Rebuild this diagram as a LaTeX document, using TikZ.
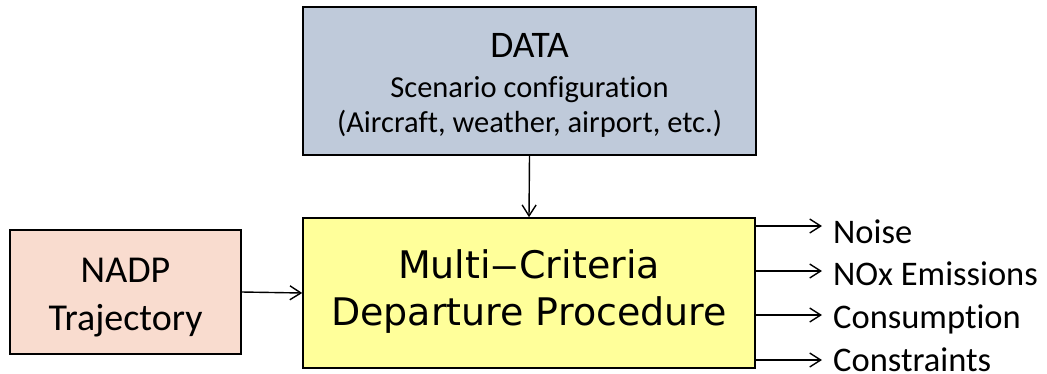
\documentclass[tikz,border=0pt]{standalone}
\usepackage{fontspec}
\usepackage{graphicx}
\setmainfont{Carlito}[Ligatures={NoCommon}]
\newfontfamily\procfont{DejaVu Sans}
\usetikzlibrary{arrows.meta}
\definecolor{databg}{HTML}{BFCADA}
\definecolor{mainbg}{HTML}{FFFF9A}
\definecolor{nadpbg}{HTML}{F9DCCF}
\tikzset{
  box/.style={draw=black, line width=1.6pt, inner sep=0pt},
  txt/.style={anchor=base, inner sep=0pt},
  link/.style={line width=1.4pt, -{Straight Barb[length=11pt,width=14pt,line width=1.4pt]}},
  outlabel/.style={anchor=base west, inner sep=0pt, font=\fontsize{34.5}{40}\selectfont}
}
\begin{document}
\begin{tikzpicture}[x=1pt,y=-1pt]
\useasboundingbox (0,0) rectangle (1047,373);

% input data block
\node[box, fill=databg, minimum width=453pt, minimum height=148pt] (data) at (529.5,81) {};
\node[txt, font=\fontsize{37.5}{40}\selectfont] (dtitle) at (529.5,57) {DATA};
\node[txt, font=\fontsize{30.5}{36}\selectfont] (dsub1) at (529.5,97) {Scenario configuration};
\node[txt, font=\fontsize{30.5}{36}\selectfont] (dsub2) at (529.5,132) {(Aircraft, weather, airport, etc.)};

% central procedure block
\node[box, fill=mainbg, minimum width=452pt, minimum height=150pt] (main) at (529,293) {};
\node[txt, font=\procfont\fontsize{38}{46}\selectfont] (mline1) at (529,278) {Multi\scalebox{1.5}[1]{–}Criteria};
\node[txt, font=\procfont\fontsize{38}{46}\selectfont] (mline2) at (529,325) {Departure Procedure};

% reference trajectory block
\node[box, fill=nadpbg, minimum width=231pt, minimum height=124pt] (nadp) at (125.5,292) {};
\node[txt, font=\fontsize{38}{46}\selectfont] (nline1) at (125.5,282) {NADP};
\node[txt, font=\fontsize{38}{46}\selectfont] (nline2) at (125.5,330) {Trajectory};

\draw[link] (data.south) -- (main.north);
\draw[link] (nadp.east) -- (main.west);

% outputs
\coordinate (o1) at (822,226);
\coordinate (o2) at (822,271);
\coordinate (o3) at (822,315);
\coordinate (o4) at (822,360);
\draw[link] (main.east |- o1) -- (o1);
\draw[link] (main.east |- o2) -- (o2);
\draw[link] (main.east |- o3) -- (o3);
\draw[link] (main.east |- o4) -- (o4);
\node[outlabel] (noise) at (833,243) {Noise};
\node[outlabel] (nox) at (833,285) {NOx Emissions};
\node[outlabel] (cons) at (833,328) {Consumption};
\node[outlabel] (constr) at (833,371) {Constraints};
\end{tikzpicture}
\end{document}
